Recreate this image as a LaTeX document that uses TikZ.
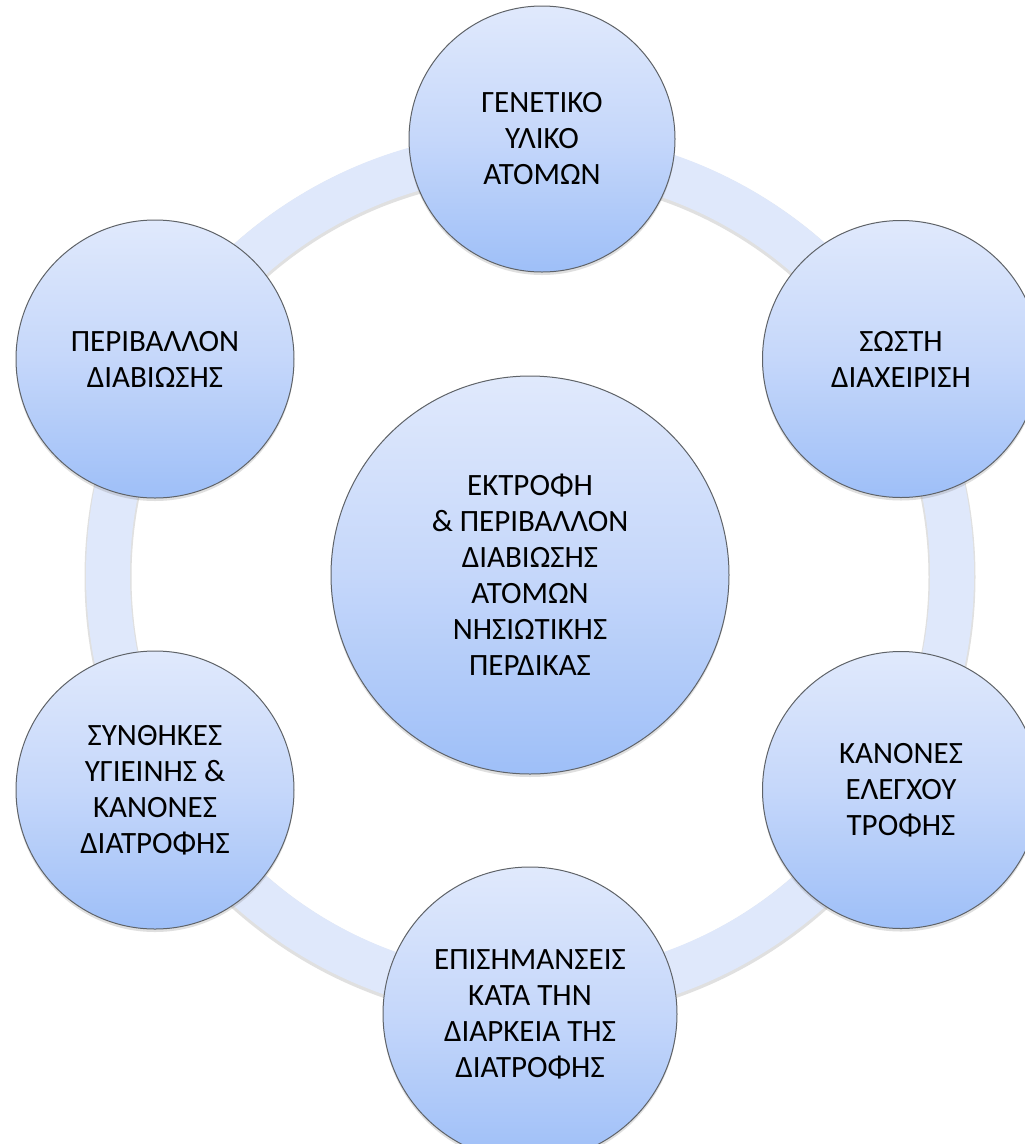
\documentclass[tikz,border=0pt]{standalone}
\usepackage{fontspec}
\setmainfont{Carlito}
\usetikzlibrary{shadows}
\definecolor{balltop}{HTML}{E0E9FC}
\definecolor{ballmid}{HTML}{C5D7FA}
\definecolor{ballbottom}{HTML}{9EBFF8}
\definecolor{ringblue}{HTML}{DFE8FB}
\definecolor{rimgray}{HTML}{5F6368}

\begin{document}
\begin{tikzpicture}[x=1pt, y=-1pt,
		ball/.style={circle, draw=rimgray, line width=1pt, top color=balltop, bottom color=ballbottom, middle color=ballmid, align=center, inner sep=0pt, font=\fontsize{31}{36}\selectfont, drop shadow={opacity=.25, shadow xshift=0pt, shadow yshift=-3pt}},
		ringband/.style={draw=ringblue, line width=44pt}]
		\fill[white] (0,0) rectangle (1025,1144);
		\useasboundingbox (0,0) rectangle (1025,1144);
		\clip (0,0) rectangle (1025,1144);
		\node[ball, minimum size=398pt] (hub) at (530,575) {ΕΚΤΡΟΦΗ\\\& ΠΕΡΙΒΑΛΛΟΝ\\ΔΙΑΒΙΩΣΗΣ\\ΑΤΟΜΩΝ\\ΝΗΣΙΩΤΙΚΗΣ\\ΠΕΡΔΙΚΑΣ};
		\draw[draw=black!12, line width=47pt] ([yshift=-2pt]hub.center) circle[radius=422];
		\draw[ringband] (hub.center) circle[radius=422];
		\node[ball, minimum size=266pt] (gen) at (542,139) {ΓΕΝΕΤΙΚΟ\\ΥΛΙΚΟ\\ΑΤΟΜΩΝ};
		\node[ball, minimum size=277pt] (care) at (901,359) {ΣΩΣΤΗ\\ΔΙΑΧΕΙΡΙΣΗ};
		\node[ball, minimum size=277pt] (feed) at (901,790) {ΚΑΝΟΝΕΣ\\ΕΛΕΓΧΟΥ\\ΤΡΟΦΗΣ};
		\node[ball, minimum size=294pt] (notes) at (530,1014) {ΕΠΙΣΗΜΑΝΣΕΙΣ\\ΚΑΤΑ ΤΗΝ\\ΔΙΑΡΚΕΙΑ ΤΗΣ\\ΔΙΑΤΡΟΦΗΣ};
		\node[ball, minimum size=278pt] (hygiene) at (155,790) {ΣΥΝΘΗΚΕΣ\\ΥΓΙΕΙΝΗΣ \&\\ΚΑΝΟΝΕΣ\\ΔΙΑΤΡΟΦΗΣ};
		\node[ball, minimum size=278pt] (habitat) at (155,359) {ΠΕΡΙΒΑΛΛΟΝ\\ΔΙΑΒΙΩΣΗΣ};
	\end{tikzpicture}
\end{document}
